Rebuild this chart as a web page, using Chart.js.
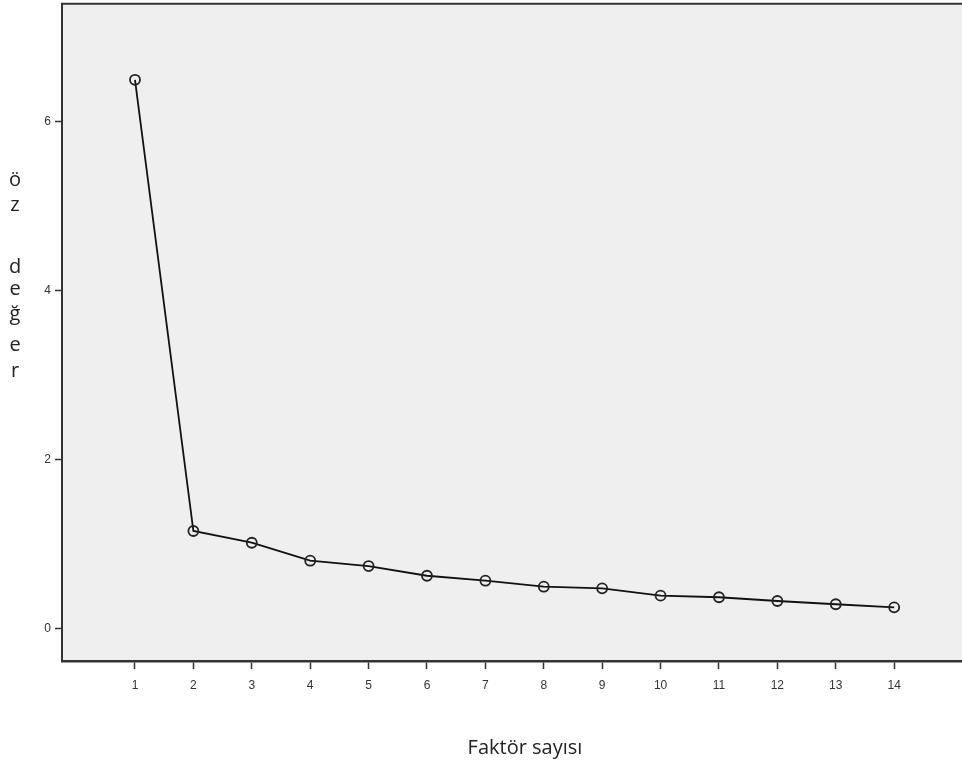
<!doctype html>
<html lang="tr">
<head>
  <meta charset="utf-8">
  <title>Öz değer grafiği</title>
  <style>
    * { margin: 0; padding: 0; }
    html, body { background: #ffffff; overflow: hidden; }
    /* line controller keeps ~7px free at top/right, so the box is a bit bigger and shifted up */
    .chartBox { width: 969px; height: 775px; margin-top: -3px; position: relative; }
  </style>
</head>
<body>
<div class="chartBox">
  <canvas id="myChart"></canvas>
</div>
<script src="https://cdn.jsdelivr.net/npm/chart.js"></script>
<script>
  // data
  const faktorler = [1, 2, 3, 4, 5, 6, 7, 8, 9, 10, 11, 12, 13, 14];
  const ozDegerler = [6.50, 1.155, 1.016, 0.803, 0.74, 0.625, 0.566, 0.495, 0.476, 0.389, 0.37, 0.326, 0.287, 0.251];
  const yTicks = [0, 2, 4, 6];
  const xTitle = 'Faktör sayısı';
  const yTitleLetters = ['ö', 'z', 'd', 'e', 'ğ', 'e', 'r'];
  const yTitleRows = [180, 205, 267, 289, 314, 345, 371];
  const shiftY = 3; // canvas is moved up by 3px

  const points = faktorler.map((f, i) => ({ x: f, y: ozDegerler[i] }));

  // gray plot background + top border + titles
  const frame = {
    id: 'frame',
    beforeDraw(chart) {
      const { ctx, chartArea: a } = chart;
      ctx.save();
      ctx.fillStyle = '#efefef';
      ctx.fillRect(a.left, a.top, chart.width - a.left, a.bottom - a.top);
      ctx.restore();
    },
    afterDraw(chart) {
      const { ctx, chartArea: a } = chart;
      ctx.save();
      ctx.strokeStyle = '#333333';
      ctx.lineWidth = 2;
      ctx.beginPath();
      ctx.moveTo(a.left - 1, a.top);
      ctx.lineTo(chart.width, a.top);
      ctx.stroke();

      ctx.fillStyle = '#222222';
      ctx.textAlign = 'center';
      ctx.textBaseline = 'middle';
      ctx.font = '20px "Open Sans", sans-serif';
      ctx.fillText(xTitle, 525, 748 + shiftY);

      ctx.font = '20px "Open Sans", sans-serif';
      yTitleLetters.forEach((ch, i) => ctx.fillText(ch, 15, yTitleRows[i] + shiftY));
      ctx.restore();
    }
  };

  const config = {
    type: 'line',
    data: {
      datasets: [{
        data: points,
        borderColor: '#111111',
        borderWidth: 1.8,
        backgroundColor: 'rgba(0,0,0,0)',
        pointRadius: 5,
        pointBorderWidth: 1.8,
        pointBorderColor: '#222222',
        pointBackgroundColor: 'rgba(0,0,0,0)',
        tension: 0,
        clip: false
      }]
    },
    options: {
      responsive: true,
      maintainAspectRatio: false,
      animation: false,
      layout: { padding: 0 },
      plugins: {
        legend: { display: false },
        tooltip: { enabled: false }
      },
      scales: {
        x: {
          type: 'linear',
          min: -0.25,
          max: 15.165,
          afterFit(scale) {
            scale.height = 111;
            scale.paddingLeft = 0;
            scale.paddingRight = 0;
          },
          afterBuildTicks(scale) { scale.ticks = faktorler.map(v => ({ value: v })); },
          grid: {
            drawOnChartArea: false,
            drawTicks: true,
            tickLength: 8,
            tickWidth: 1.5,
            color: '#333333'
          },
          border: { display: true, color: '#333333', width: 2.5 },
          ticks: {
            color: '#333333',
            font: { family: 'Liberation Sans, Arial, sans-serif', size: 12 },
            padding: 9,
            maxRotation: 0,
            autoSkip: false
          }
        },
        y: {
          type: 'linear',
          min: -0.385,
          max: 7.40,
          afterFit(scale) {
            scale.width = 62;
            scale.paddingTop = 0;
            scale.paddingBottom = 0;
          },
          afterBuildTicks(scale) { scale.ticks = yTicks.map(v => ({ value: v })); },
          grid: {
            drawOnChartArea: false,
            drawTicks: true,
            tickLength: 7,
            tickWidth: 1.5,
            color: '#333333'
          },
          border: { display: true, color: '#333333', width: 2 },
          ticks: {
            color: '#333333',
            font: { family: 'Liberation Sans, Arial, sans-serif', size: 12 },
            padding: 4
          }
        }
      }
    },
    plugins: [frame]
  };

  const myChart = new Chart(document.getElementById('myChart'), config);
</script>
</body>
</html>
